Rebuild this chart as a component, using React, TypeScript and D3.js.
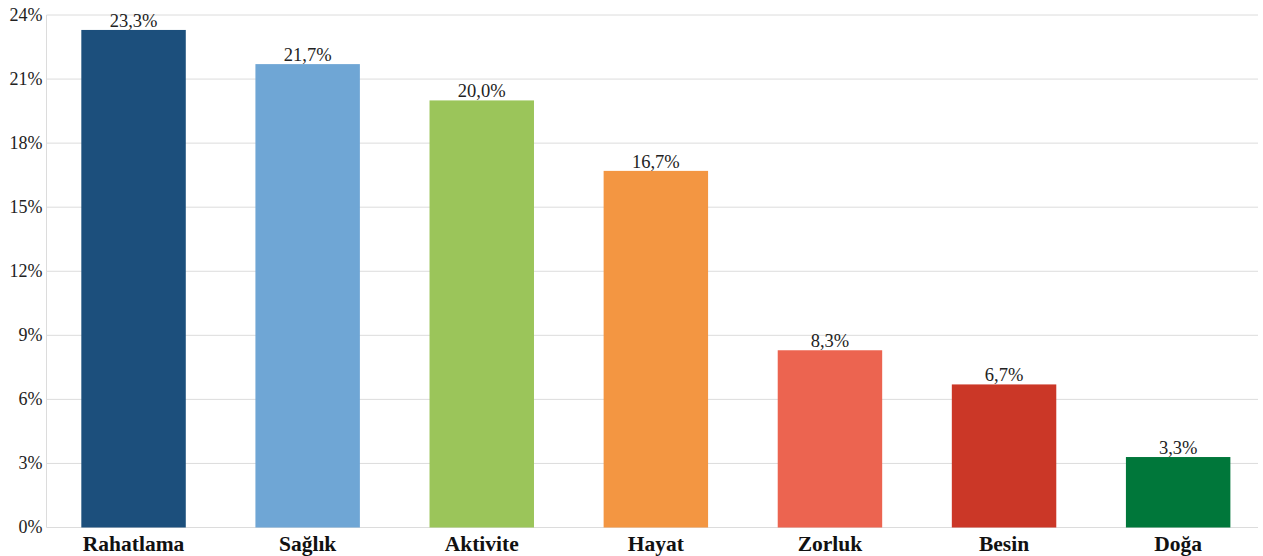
import * as d3 from 'd3';
import { useEffect, useRef } from 'react';

const categories = ['Rahatlama', 'Sağlık', 'Aktivite', 'Hayat', 'Zorluk', 'Besin', 'Doğa'];
const values = [23.3, 21.7, 20.0, 16.7, 8.3, 6.7, 3.3];
const colors = ['#1c4f7c', '#6fa6d5', '#9bc55a', '#f39642', '#ec6450', '#cb3727', '#00773a'];
const yTicks = [0, 3, 6, 9, 12, 15, 18, 21, 24];

const App = () => {
  const ref = useRef<SVGSVGElement>(null);
  const width = 1263;
  const height = 556;

  useEffect(() => {
    const svg = d3.select(ref.current);
    svg.selectAll('*').remove();
    const left = 46.5, top = 15, bottom = 527.5, gridRight = 1258;
    const x = d3.scaleBand().domain(categories).range([left, left + 7 * 174.1]).paddingInner(0.4).paddingOuter(0.2);
    const y = d3.scaleLinear().domain([0, 24]).range([bottom, top]);
    const font = '"Liberation Serif", "Times New Roman", serif';

    const g = svg.append('g');
    g.selectAll('line.grid')
      .data(yTicks)
      .enter()
      .append('line')
      .attr('x1', left)
      .attr('x2', gridRight)
      .attr('y1', (d) => y(d))
      .attr('y2', (d) => y(d))
      .attr('stroke', '#dcdcdc')
      .attr('stroke-width', 1);

    g.append('line')
      .attr('x1', left).attr('x2', left)
      .attr('y1', top).attr('y2', bottom)
      .attr('stroke', '#dcdcdc');

    g.selectAll('text.tick')
      .data(yTicks)
      .enter()
      .append('text')
      .attr('x', left - 4)
      .attr('y', (d) => y(d))
      .attr('dy', '0.32em')
      .attr('text-anchor', 'end')
      .attr('font-family', font)
      .attr('font-size', 18)
      .attr('fill', '#222')
      .text((d) => d + '%');

    g.selectAll('rect')
      .data(values)
      .enter()
      .append('rect')
      .attr('x', (d, i) => x(categories[i]) as number)
      .attr('y', (d) => y(d))
      .attr('width', x.bandwidth())
      .attr('height', (d) => bottom - y(d))
      .attr('fill', (d, i) => colors[i]);

    g.selectAll('text.val')
      .data(values)
      .enter()
      .append('text')
      .attr('x', (d, i) => (x(categories[i]) as number) + x.bandwidth() / 2)
      .attr('y', (d) => y(d) - 3)
      .attr('text-anchor', 'middle')
      .attr('font-family', font)
      .attr('font-size', 18.5)
      .attr('fill', '#222')
      .text((d) => d.toFixed(1).replace('.', ',') + '%');

    g.selectAll('text.cat')
      .data(categories)
      .enter()
      .append('text')
      .attr('x', (d) => (x(d) as number) + x.bandwidth() / 2)
      .attr('y', bottom + 23)
      .attr('text-anchor', 'middle')
      .attr('font-family', font)
      .attr('font-size', 21.5)
      .attr('font-weight', 'bold')
      .attr('fill', '#111')
      .text((d) => d);
  }, []);

  return (
    <svg ref={ref} width={width} height={height} style={{ position: 'absolute', left: 0, top: 0 }}></svg>
  );
};

export default App;
